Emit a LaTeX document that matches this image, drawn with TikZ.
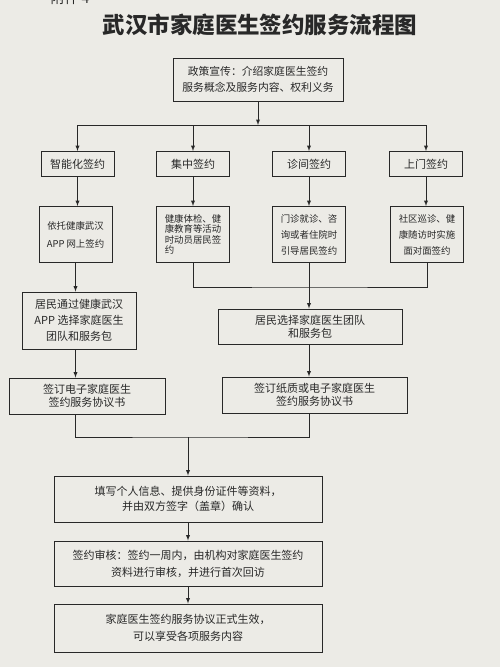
\documentclass[tikz,border=0pt]{standalone}
\usepackage{fontspec}
\setmainfont{Noto Sans CJK SC}
\usepackage{tikz}
\usetikzlibrary{positioning}
\usetikzlibrary{calc}
\definecolor{paper}{RGB}{236,235,230}
\definecolor{ink}{RGB}{40,40,40}
\tikzstyle{block} = [draw, rectangle, line width=0.9pt, align=center, inner sep=2pt, font=\fontsize{11}{15}\selectfont]
\tikzstyle{way} = [block, minimum width=73pt, minimum height=25pt]
\tikzstyle{how} = [block, minimum width=73pt, minimum height=56pt, font=\fontsize{9.4}{16}\selectfont]
\tikzstyle{pair} = [block, font=\fontsize{11}{13}\selectfont]
\tikzstyle{final} = [block, minimum width=268pt, minimum height=46pt]
\tikzstyle{coord} = [coordinate]

\begin{document}
\begin{tikzpicture}[x=1pt,y=-1pt,>=latex,color=ink,line width=0.9pt]
    \fill [paper] (0,0) rectangle (500,667);
    \useasboundingbox (0,0) rectangle (500,667);
    \node [font=\fontsize{14}{14}\selectfont] (annex) at (70,-2) {附件 4};
    \node [font=\fontsize{22.5}{26}\selectfont\bfseries] (title) at (260,25) {武汉市家庭医生签约服务流程图};
    \node [block, minimum width=170pt, minimum height=43pt, font=\fontsize{10.8}{15.5}\selectfont] (policy) at (258,79.5) {政策宣传：介绍家庭医生签约\\服务概念及服务内容、权利义务};
    \node [coord] (b) at (258,125) {};

    \node [way] (znh) at (77.5,164) {智能化签约};
    \node [way] (jz) at (193,164) {集中签约};
    \node [way] (zj) at (309,164) {诊间签约};
    \node [way] (sm) at (426,164) {上门签约};

    \node [how, font=\fontsize{9.4}{18}\selectfont] (yt) at (75.5,234.5) {依托健康武汉\\APP 网上签约};
    \node [how, align=left, font=\fontsize{9.4}{10.5}\selectfont] (jk) at (193,234.5) {健康体检、健\\康教育等活动\\时动员居民签\\约};
    \node [how] (mz) at (309,234.5) {门诊就诊、咨\\询或者住院时\\引导居民签约};
    \node [how] (sq) at (427,234.5) {社区巡诊、健\\康随访时实施\\面对面签约};
    \node [coord] (c) at (309,287) {};

    \node [block, minimum width=114pt, minimum height=57pt, font=\fontsize{11}{16}\selectfont] (jmapp) at (79,320.5) {居民通过健康武汉\\APP 选择家庭医生\\团队和服务包};
    \node [pair, minimum width=184pt, minimum height=35pt] (jmxz) at (310,326.5) {居民选择家庭医生团队\\和服务包};
    \node [pair, minimum width=156pt, minimum height=36pt] (qddz) at (87,396) {签订电子家庭医生\\签约服务协议书};
    \node [pair, minimum width=185pt, minimum height=36pt] (qdzz) at (314.5,395) {签订纸质或电子家庭医生\\签约服务协议书};
    \node [coord] (m) at (188,437) {};

    \node [final] (tx) at (188,499) {填写个人信息、提供身份证件等资料，\\并由双方签字（盖章）确认};
    \node [final, minimum height=45pt, font=\fontsize{11}{17}\selectfont] (sh) at (188,563.5) {签约审核：签约一周内，由机构对家庭医生签约\\资料进行审核，并进行首次回访};
    \node [final, minimum height=48pt, font=\fontsize{11}{17}\selectfont] (sx) at (188,628) {家庭医生签约服务协议正式生效，\\可以享受各项服务内容};

    \draw [->] (policy) -- (b);
    \draw (znh.north |- b) -- (sm.north |- b);
    \foreach \n in {znh,jz,zj,sm}
        \draw [->] (\n.north |- b) -- (\n);
    \foreach \up/\dn in {znh/yt,jz/jk,zj/mz,sm/sq}
        \draw [->] (\up) -- (\up |- \dn.north);

    \draw (jk) |- (c) -| (sq);
    \draw [->] (mz) -- (mz |- jmxz.north);
    \draw [->] (yt) -- (yt |- jmapp.north);
    \draw [->] (jmapp.south -| yt) -- (yt |- qddz.north);
    \draw [->] (jmxz.south -| mz) -- (mz |- qdzz.north);

    \draw (qddz.south -| yt) |- (m) -| (qdzz.south -| mz);
    \draw [->] (m) -- (tx);
    \draw [->] (tx) -- (sh);
    \draw [->] (sh) -- (sx);
\end{tikzpicture}
\end{document}
